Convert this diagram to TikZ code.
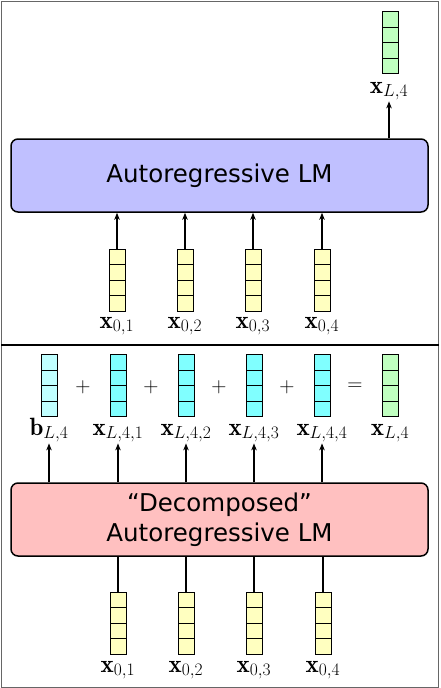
\RequirePackage{fix-cm}
\documentclass[tikz,border=0pt]{standalone}
\usepackage{fontspec}
\newfontfamily\lmfont{DejaVu Sans}
\usepackage{tikz}
\usetikzlibrary{arrows.meta, positioning, shadows}

\definecolor{vyellow}{RGB}{255,255,192}
\definecolor{vcyan}{RGB}{128,255,255}
\definecolor{vcyanl}{RGB}{192,255,255}
\definecolor{vgreen}{RGB}{192,255,192}
\definecolor{lmblue}{RGB}{192,192,255}
\definecolor{lmpink}{RGB}{255,192,192}

\tikzset{
  vec/.style={draw, line width=0.8pt, minimum width=16pt, minimum height=62pt, inner sep=0pt,
    general shadow={fill=black!55, shadow xshift=1.3pt, shadow yshift=0pt},
    path picture={\foreach \k in {1,2,3}{
      \draw[line width=0.8pt] ([yshift=\k*15.5pt]path picture bounding box.south west)
        -- ([yshift=\k*15.5pt]path picture bounding box.south east);}}},
  lmbox/.style={draw, line width=1.5pt, rounded corners=7pt, minimum width=417pt, minimum height=73pt,
    align=center, font={\lmfont\fontsize{24.5}{30}\selectfont}},
  lbl/.style={inner sep=1pt, font=\fontsize{25}{28}\selectfont},
  opr/.style={inner sep=0pt, font=\fontsize{21}{24}\selectfont},
  arr/.style={-{Stealth[length=7pt,width=5.5pt,inset=2pt]}, line width=2pt}
}

\begin{document}
\begin{tikzpicture}[x=1pt, y=-1pt]
\useasboundingbox (0,0) rectangle (440,688);
% Frame
\draw[black!60, line width=1pt] (1,1) rectangle (438.5,687);
\draw[line width=1.5pt] (1,345) -- (438.5,345);

% Top panel
\node[lmbox, fill=lmblue] (lm) at (219.5,175.5) {Autoregressive LM};
\foreach \i/\x in {1/117, 2/185, 3/253, 4/322} {
    \node[vec, fill=vyellow] (in\i) at (\x,280) {};
    \node[lbl, anchor=base] (inl\i) at (\x,328) {$\mathbf{x}_{0,\i}$};
    \draw[arr] (in\i.north) -- (in\i.north |- lm.south);
}
\node[vec, fill=vgreen] (out) at (390,42.5) {};
\node[lbl, anchor=base] (outl) at (389,93) {$\mathbf{x}_{L,4}$};
\draw[arr] (outl |- lm.north) -- (outl.south);

% Bottom panel
\node[lmbox, fill=lmpink] (dlm) at (219.5,519.5) {“Decomposed”\\Autoregressive LM};
\node[vec, fill=vcyanl] (b) at (49,385.5) {};
\node[lbl, anchor=base] (bl) at (49,435) {$\mathbf{b}_{L,4}$};
\draw[arr] (bl |- dlm.north) -- (bl.south);
\foreach \i/\x in {1/118, 2/186, 3/254, 4/322} {
    \node[vec, fill=vcyan] (d\i) at (\x,385.5) {};
    \node[lbl, anchor=base] (dl\i) at (\x,435) {$\mathbf{x}_{L,4,\i}$};
    \draw[arr] (dl\i |- dlm.north) -- (dl\i.south);
}
\node[vec, fill=vgreen] (sum) at (390,385.5) {};
\node[lbl, anchor=base] (suml) at (390,435) {$\mathbf{x}_{L,4}$};
\foreach \x/\op in {83/+, 151/+, 219/+, 287/+, 355/=}
    \node[opr] (op\x) at (\x,387) {$\op$};

% Inputs of the decomposed LM
\foreach \i/\x in {1/118, 2/186, 3/254, 4/323} {
    \node[vec, fill=vyellow] (bin\i) at (\x,623) {};
    \node[lbl, anchor=base] (binl\i) at (\x,672) {$\mathbf{x}_{0,\i}$};
    \draw[line width=2pt] (bin\i.north) -- (bin\i.north |- dlm.south);
}
\end{tikzpicture}
\end{document}
